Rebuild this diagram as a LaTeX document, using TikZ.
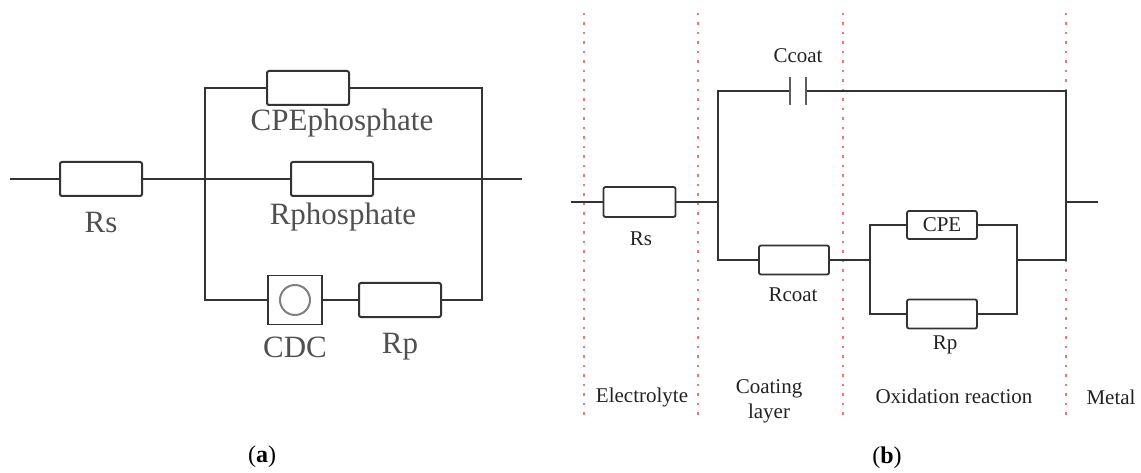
\documentclass[tikz,border=0pt]{standalone}
\usepackage{fontspec}
\setmainfont{Liberation Serif}
\usetikzlibrary{positioning}
\definecolor{fil}{RGB}{51,51,51}
\definecolor{texteA}{RGB}{80,80,80}
\definecolor{texteB}{RGB}{34,34,34}
\definecolor{pointille}{RGB}{250,115,115}

\begin{document}
\begin{tikzpicture}[x=1pt, y=-1pt,
    fil/.style={draw=fil, line width=2pt},
    resA/.style={draw=fil, line width=2pt, rounded corners=2pt, fill=white,
        minimum width=82pt, minimum height=34pt, inner sep=0pt},
    resB/.style={draw=fil, line width=1.8pt, rounded corners=2pt, fill=white,
        minimum width=70pt, minimum height=29pt, inner sep=0pt},
    etiqA/.style={font=\fontsize{31}{36}\selectfont, text=texteA, inner sep=0pt},
    etiqB/.style={font=\fontsize{21}{25}\selectfont, text=texteB, inner sep=0pt},
    legende/.style={font=\fontsize{24}{28}\selectfont, text=black, inner sep=0pt},
    zone/.style={draw=pointille, line width=2.5pt, dash pattern=on 2.5pt off 7pt}]

\useasboundingbox (0,0) rectangle (1141,473);

% Circuit (a)
\node[resA] (RsA) at (101,179) {};
\node[resA] (CPEph) at (308,88) {};
\node[resA] (Rph) at (332,179) {};
\node[draw=fil, line width=1.8pt, fill=white, minimum width=54pt,
    minimum height=49pt, inner sep=0pt] (CDC) at (295,300) {};
\draw[gray, line width=2pt] (CDC.center) circle (15pt);
\node[resA] (RpA) at (400,300) {};
\coordinate (entreeA) at (10,179);
\coordinate (gaucheA) at (205,179);
\coordinate (droiteA) at (482,179);
\coordinate (sortieA) at (522,179);

\draw[fil] (entreeA) -- (RsA) -- (gaucheA) -- (Rph) -- (droiteA) -- (sortieA);
\draw[fil] (CPEph.west) -| (gaucheA) |- (CDC.west);
\draw[fil] (CPEph.east) -| (droiteA) |- (RpA.east);
\draw[fil] (CDC) -- (RpA);

\node[etiqA] (lRsA) at (101,223) {Rs};
\node[etiqA] (lCPEph) at (342,123) {CPEphosphate};
\node[etiqA] (lRph) at (343,217) {Rphosphate};
\node[etiqA] (lCDC) at (295,347) {CDC};
\node[etiqA] (lRpA) at (400,347) {Rp};

% Zones (b)
\foreach \x in {584, 698, 843, 1066} {
    \draw[zone] (\x,13) -- (\x,420);
}

% Circuit (b)
\node[resB, minimum width=72pt, minimum height=30pt] (RsB) at (639.5,202) {};
\node[minimum width=16pt, minimum height=28pt, inner sep=0pt] (Ccoat) at (798,91) {};
\node[resB] (Rcoat) at (794,260) {};
\node[resB, minimum height=28pt, etiqB] (CPE) at (942,225) {CPE};
\node[resB] (RpB) at (942,314) {};
\coordinate (entreeB) at (571,202);
\coordinate (gaucheB) at (718,202);
\coordinate (droiteB) at (1066,202);
\coordinate (sortieB) at (1098,202);
\coordinate (noeudG) at (870,260);
\coordinate (noeudD) at (1017,260);
\coordinate (basD) at (1066,260);

\draw[fil] (entreeB) -- (RsB) -- (gaucheB);
\draw[fil] (droiteB) -- (sortieB);
\draw[fil] (Ccoat.west) -| (gaucheB) |- (Rcoat.west);
\draw[fil] (Ccoat.east) -| (basD) -- (noeudD);
\draw[fil] (Rcoat) -- (noeudG);
\draw[fil] (CPE.west) -| (noeudG) |- (RpB.west);
\draw[fil] (CPE.east) -| (noeudD) |- (RpB.east);
\draw[draw=fil!80, line width=2pt] (Ccoat.north west) -- (Ccoat.south west)
    (Ccoat.north east) -- (Ccoat.south east);

\node[etiqB] (lRsB) at (641,239) {Rs};
\node[etiqB] (lCcoat) at (798,56) {Ccoat};
\node[etiqB] (lRcoat) at (793,295) {Rcoat};
\node[etiqB] (lRpB) at (945,345) {Rp};

% Couches
\node[etiqB] (lElec) at (642,397) {Electrolyte};
\node[etiqB, align=center] (lCoat) at (769,401) {Coating\\layer};
\node[etiqB] (lOxy) at (954,396) {Oxidation reaction};
\node[etiqB] (lMetal) at (1111,397) {Metal};

% Legendes
\node[legende] (capA) at (262,457) {(\textbf{a})};
\node[legende] (capB) at (887,458) {(\textbf{b})};

\end{tikzpicture}
\end{document}
